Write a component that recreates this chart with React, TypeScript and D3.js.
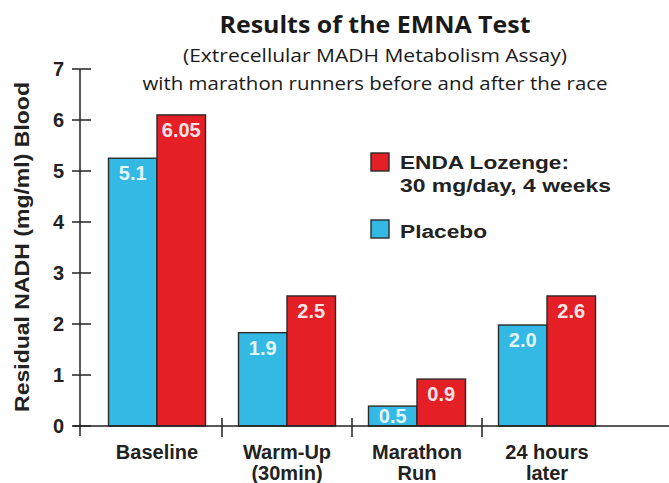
import * as d3 from "d3";
import { useEffect, useRef } from "react";

// categories, each split into its label lines
const categories = ["Baseline", "Warm-Up", "Marathon", "24 hours"];
const categorySubLines = ["", "(30min)", "Run", "later"];

// bar heights as drawn, and the value labels printed on them
const placeboValues = [5.25, 1.83, 0.39, 1.98];
const endaValues = [6.1, 2.55, 0.92, 2.55];
const placeboLabels = ["5.1", "1.9", "0.5", "2.0"];
const endaLabels = ["6.05", "2.5", "0.9", "2.6"];

const seriesNames = ["Placebo", "ENDA"];
const yTicks = [0, 1, 2, 3, 4, 5, 6, 7];

const titleLines = [
	"Results of the EMNA Test",
	"(Extrecellular MADH Metabolism Assay)",
	"with marathon runners before and after the race",
];
const legendLines = ["ENDA Lozenge:", "30 mg/day, 4 weeks", "Placebo"];
const yAxisLabel = "Residual NADH (mg/ml) Blood";

const BLUE = "#33b9e4";
const RED = "#e41f26";
const INK = "#222";

function EmnaChart() {
	const ref = useRef<SVGSVGElement | null>(null);

	useEffect(() => {
		const svg = d3.select(ref.current);
		svg.selectAll("*").remove();

		const width = 669;
		const baseY = 426;
		const topY = 69;
		const axisX = 80;
		const armFont = "'Liberation Sans', Arial, sans-serif";
		const titleFont = "'Open Sans', sans-serif";

		const y = d3.scaleLinear().domain([0, 7]).range([baseY, topY]);
		const x0 = d3.scaleBand().domain(categories).range([92, 612]).padding(0);
		const x1 = d3.scaleBand().domain(seriesNames).range([16.5, 113.5]).padding(0);

		svg.append("rect").attr("width", width).attr("height", 483).attr("fill", "#fff");

		// Titles
		const titleSizes = [24, 18, 18];
		const titleBaselines = [33, 62, 90];
		const titleLengths = [311, 384, 465];
		titleLines.forEach((t, i) => {
			svg.append("text")
				.attr("x", 375)
				.attr("y", titleBaselines[i])
				.attr("text-anchor", "middle")
				.attr("font-family", titleFont)
				.attr("font-weight", i === 0 ? 700 : 400)
				.attr("font-size", titleSizes[i])
				.attr("textLength", titleLengths[i])
				.attr("lengthAdjust", "spacingAndGlyphs")
				.attr("fill", "#1a1a1a")
				.text(t);
		});

		// Bars
		const groups = svg.append("g");
		categories.forEach((c, i) => {
			const g = groups.append("g").attr("transform", `translate(${x0(c)},0)`);
			const vals = [placeboValues[i], endaValues[i]];
			const labs = [placeboLabels[i], endaLabels[i]];
			seriesNames.forEach((s, j) => {
				const top = y(vals[j]);
				g.append("rect")
					.attr("x", x1(s))
					.attr("y", top)
					.attr("width", x1.bandwidth())
					.attr("height", baseY - top)
					.attr("fill", j === 0 ? BLUE : RED)
					.attr("stroke", "#2a2a2a")
					.attr("stroke-width", 1.4);
				g.append("text")
					.attr("x", x1(s) + x1.bandwidth() / 2)
					.attr("y", Math.min(top + 22, baseY - 3))
					.attr("text-anchor", "middle")
					.attr("font-family", armFont)
					.attr("font-weight", 700)
					.attr("font-size", 20)
					.attr("fill", "#fff")
					.attr("fill-opacity", 0.9)
					.text(labs[j]);
			});
		});

		// Y axis
		svg.append("line")
			.attr("x1", axisX).attr("x2", axisX)
			.attr("y1", topY).attr("y2", 436)
			.attr("stroke", INK).attr("stroke-width", 1.5);
		const yAxis = svg.append("g");
		yTicks.forEach(t => {
			yAxis.append("line")
				.attr("x1", 72).attr("x2", 91)
				.attr("y1", y(t)).attr("y2", y(t))
				.attr("stroke", INK).attr("stroke-width", 1.5);
			yAxis.append("text")
				.attr("x", 64)
				.attr("y", y(t))
				.attr("dy", "0.36em")
				.attr("text-anchor", "end")
				.attr("font-family", armFont)
				.attr("font-weight", 700)
				.attr("font-size", 20)
				.attr("fill", INK)
				.text(t);
		});

		svg.append("text")
			.attr("transform", `translate(29,247) rotate(-90)`)
			.attr("text-anchor", "middle")
			.attr("font-family", armFont)
			.attr("font-weight", 700)
			.attr("font-size", 20)
			.attr("textLength", 330)
			.attr("lengthAdjust", "spacingAndGlyphs")
			.attr("fill", INK)
			.text(yAxisLabel);

		// X axis
		svg.append("line")
			.attr("x1", 73).attr("x2", width)
			.attr("y1", baseY).attr("y2", baseY)
			.attr("stroke", INK).attr("stroke-width", 1.5);
		categories.slice(1).forEach(c => {
			svg.append("line")
				.attr("x1", x0(c)).attr("x2", x0(c))
				.attr("y1", 418).attr("y2", 437)
				.attr("stroke", INK).attr("stroke-width", 1.5);
		});
		categories.forEach((c, i) => {
			const cx = x0(c) + x0.bandwidth() / 2;
			const t = svg.append("text")
				.attr("text-anchor", "middle")
				.attr("font-family", armFont)
				.attr("font-weight", 700)
				.attr("font-size", 20)
				.attr("fill", INK);
			t.append("tspan").attr("x", cx).attr("y", 459).text(c);
			if (categorySubLines[i]) t.append("tspan").attr("x", cx).attr("y", 480).text(categorySubLines[i]);
		});

		// Legend
		const legend = svg.append("g");
		const swatches = [[RED, 153], [BLUE, 220]];
		swatches.forEach(([col, sy]) => {
			legend.append("rect")
				.attr("x", 371).attr("y", sy)
				.attr("width", 18).attr("height", 18)
				.attr("fill", col)
				.attr("stroke", "#2a2a2a").attr("stroke-width", 1.4);
		});
		const legendBaselines = [169, 192, 238];
		const legendLengths = [169, 211, 87];
		legendLines.forEach((t, i) => {
			legend.append("text")
				.attr("x", 400)
				.attr("y", legendBaselines[i])
				.attr("font-family", armFont)
				.attr("font-weight", 700)
				.attr("font-size", 18)
				.attr("textLength", legendLengths[i])
				.attr("lengthAdjust", "spacingAndGlyphs")
				.attr("fill", INK)
				.text(t);
		});
	}, []);

	return <svg ref={ref} width={669} height={483} style={{ display: "block" }}></svg>;
}

export default function App() {
	return (
		<div style={{ position: "absolute", left: 0, top: 0 }}>
			<EmnaChart />
		</div>
	);
}
